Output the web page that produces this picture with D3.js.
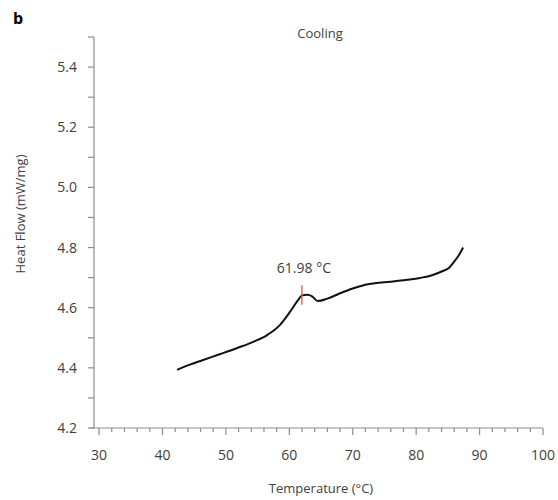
<!DOCTYPE html>
<html>
<head>
<meta charset="utf-8">
<script src="https://cdn.jsdelivr.net/npm/d3@7"></script>
<style>
  body { margin: 0; background: #fff; }
  text { font-family: "Open Sans", "Noto Sans", sans-serif; }
</style>
</head>
<body>
<div id="chart"></div>
<script>
// cooling curve
var temps = [42.3, 44.0, 46.4, 49.0, 51.8, 54.5, 56.5, 58.5, 60.1, 61.4, 62.0, 62.8, 63.6, 64.5, 66.0, 68.0, 70.0, 71.6, 73.5, 75.9, 78.0, 80.6, 82.5, 84.2, 85.2, 85.8, 86.6, 87.4];
var flows = [4.393, 4.408, 4.426, 4.445, 4.466, 4.488, 4.509, 4.542, 4.586, 4.626, 4.641, 4.643, 4.638, 4.622, 4.630, 4.648, 4.664, 4.674, 4.681, 4.686, 4.691, 4.699, 4.708, 4.722, 4.733, 4.748, 4.770, 4.800];

var xTicks = [30, 40, 50, 60, 70, 80, 90, 100];
var yTicks = [4.2, 4.4, 4.6, 4.8, 5.0, 5.2, 5.4];
var peakT = 61.98;
var peakLabel = "61.98 °C";

var width = 558, height = 500;

var svg = d3.select("#chart")
  .append("svg")
  .attr("width", width)
  .attr("height", height);

var x = d3.scaleLinear().domain([29.2, 100]).range([94, 543]);
var y = d3.scaleLinear().domain([4.2, 5.5]).range([428, 37]);

var axisColor = "#8c8c8c";
var textColor = "#404040";

// x axis: majors every 10, minors every 2
var xAxis = svg.append("g").attr("transform", "translate(0,428)");
xAxis.append("line")
  .attr("x1", x.range()[0] - 4).attr("x2", 543)
  .attr("stroke", axisColor).attr("stroke-width", 1.2);
xAxis.selectAll(".minor")
  .data(d3.range(30, 100.1, 2))
  .enter().append("line")
  .attr("x1", function(d){ return x(d); })
  .attr("x2", function(d){ return x(d); })
  .attr("y2", function(d){ return d % 10 === 0 ? 7 : 4; })
  .attr("stroke", axisColor).attr("stroke-width", 1.2);
xAxis.selectAll(".lbl")
  .data(xTicks)
  .enter().append("text")
  .attr("x", function(d){ return x(d); })
  .attr("y", 32)
  .attr("text-anchor", "middle")
  .attr("font-size", 14)
  .attr("fill", textColor)
  .text(function(d){ return d; });

// y axis: majors every 0.2, minors every 0.1
var yAxis = svg.append("g").attr("transform", "translate(94,0)");
yAxis.append("line")
  .attr("y1", y(5.5)).attr("y2", y(4.2))
  .attr("stroke", axisColor).attr("stroke-width", 1.2);
yAxis.selectAll(".tick")
  .data(d3.range(0, 14).map(function(i){ return 4.2 + i * 0.1; }))
  .enter().append("line")
  .attr("x1", -6).attr("x2", 0)
  .attr("y1", function(d){ return y(d); })
  .attr("y2", function(d){ return y(d); })
  .attr("stroke", axisColor).attr("stroke-width", 1.2);
yAxis.selectAll(".lbl")
  .data(yTicks)
  .enter().append("text")
  .attr("x", -17)
  .attr("y", function(d){ return y(d) + 5; })
  .attr("text-anchor", "end")
  .attr("font-size", 14)
  .attr("fill", textColor)
  .text(function(d){ return d.toFixed(1); });

// curve
var line = d3.line()
  .x(function(d){ return x(d[0]); })
  .y(function(d){ return y(d[1]); })
  .curve(d3.curveMonotoneX);

svg.append("path")
  .datum(d3.zip(temps, flows))
  .attr("d", line)
  .attr("fill", "none")
  .attr("stroke", "#111")
  .attr("stroke-width", 2);

// transition marker
svg.append("line")
  .attr("x1", x(peakT)).attr("x2", x(peakT))
  .attr("y1", y(4.675)).attr("y2", y(4.61))
  .attr("stroke", "#e8505b").attr("stroke-width", 1.3);

svg.append("text")
  .attr("x", x(peakT) + 2)
  .attr("y", 273)
  .attr("text-anchor", "middle")
  .attr("font-size", 14)
  .attr("fill", textColor)
  .text(peakLabel);

// titles
svg.append("text")
  .attr("x", 320).attr("y", 38)
  .attr("text-anchor", "middle")
  .attr("font-size", 13)
  .attr("fill", textColor)
  .text("Cooling");

svg.append("text")
  .attr("x", 321).attr("y", 493)
  .attr("text-anchor", "middle")
  .attr("font-size", 13)
  .attr("fill", textColor)
  .text("Temperature (°C)");

svg.append("text")
  .attr("transform", "translate(25,214) rotate(-90)")
  .attr("text-anchor", "middle")
  .attr("font-size", 13)
  .attr("fill", textColor)
  .text("Heat Flow (mW/mg)");

svg.append("text")
  .attr("x", 13).attr("y", 24)
  .attr("font-size", 16)
  .attr("font-weight", "bold")
  .attr("fill", "#000")
  .text("b");
</script>
</body>
</html>
